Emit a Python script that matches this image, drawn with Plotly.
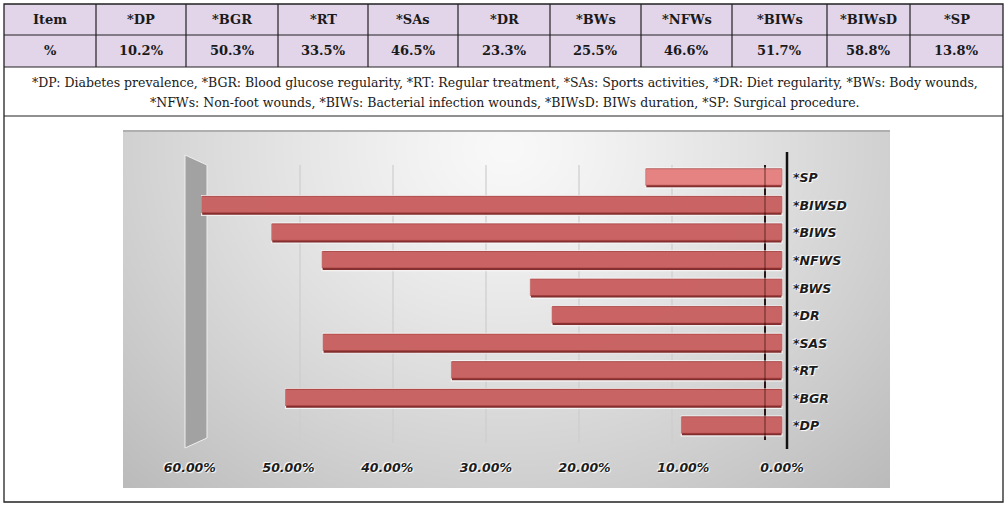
import base64
import struct
import zlib

import numpy as np
import plotly.graph_objects as go

# ---------------- data ----------------
items = ["DP", "BGR", "RT", "SAs", "DR", "BWs", "NFWs", "BIWs", "BIWsD", "SP"]
percent = [10.2, 50.3, 33.5, 46.5, 23.3, 25.5, 46.6, 51.7, 58.8, 13.8]
full_names = ["Diabetes prevalence", "Blood glucose regularity", "Regular treatment",
              "Sports activities", "Diet regularity", "Body wounds", "Non-foot wounds",
              "Bacterial infection wounds", "BIWs duration", "Surgical procedure"]
x_ticks = [0, 10, 20, 30, 40, 50, 60]

# ---------------- layout constants ----------------
W, H = 1008, 507
col_edges = [4, 96, 186, 278, 368, 458, 550, 641, 732, 827, 910, 1003]
row_edges = [4, 35, 67, 116, 502]
ZERO_PX, PX_PER = 782.0, 9.87          # bar axis: pixel of 0 %, pixels per %
CAT0_PX, CAT_STEP = 426.0, 27.56        # bar axis: pixel of first category, step
BG = (123, 130, 890, 488)               # chart picture area


def PX(x):
    return x / W


def PY(y):
    return 1 - y / H


def png_uri(arr):
    h, w, _ = arr.shape
    raw = b"".join(b"\x00" + arr[i].tobytes() for i in range(h))

    def chunk(t, d):
        return struct.pack(">I", len(d)) + t + d + struct.pack(">I", zlib.crc32(t + d) & 0xffffffff)

    png = (b"\x89PNG\r\n\x1a\n" + chunk(b"IHDR", struct.pack(">IIBBBBB", w, h, 8, 2, 0, 0, 0))
           + chunk(b"IDAT", zlib.compress(raw, 9)) + chunk(b"IEND", b""))
    return "data:image/png;base64," + base64.b64encode(png).decode()


# background gradient picture
bw, bh = BG[2] - BG[0], BG[3] - BG[1]
u = np.linspace(0, 1, bw)[None, :]
v = np.linspace(0, 1, bh)[:, None]
d = np.sqrt(((u - 0.5) / 0.6) ** 2 + ((v - 0.05) / 1.1) ** 2)
val = 249 - 50 * d ** 1.2
val[:2, :] = 175
img = np.clip(np.repeat(val[:, :, None], 3, axis=2), 0, 255).astype(np.uint8)
bg_uri = png_uri(img)

# ---------------- figure ----------------
cat_labels = ["*" + s.upper() for s in items]
face_colors = ["#f28f8e" if s == "SP" else "#d46c6c" for s in items]

fig = go.Figure()
fig.add_trace(go.Bar(
    x=percent, y=cat_labels, orientation="h", width=0.72, offset=-0.36,
    marker=dict(color="#7a2020", line=dict(color="rgba(255,255,255,0.9)", width=1.2)),
    opacity=0.92, hoverinfo="skip", showlegend=False))
fig.add_trace(go.Bar(
    x=percent, y=cat_labels, orientation="h", width=0.6, offset=-0.265,
    marker=dict(color=face_colors, line=dict(color="#a83c3c", width=0.6)),
    opacity=0.88, showlegend=False))

x_lo_px, x_hi_px = 170, 790
y_top_px, y_bot_px = 150, 452
lab_font = dict(family="DejaVu Sans", size=12.5, color="#1c1c1c", weight="bold",
                style="italic", shadow="1px 1px 1px #ffffff, -1px -1px 1px #ffffff")

fig.update_layout(
    width=W, height=H, margin=dict(l=0, r=0, t=0, b=0, pad=0, autoexpand=False),
    paper_bgcolor="white", plot_bgcolor="rgba(0,0,0,0)", barmode="overlay",
    xaxis=dict(domain=[PX(x_lo_px), PX(x_hi_px)],
               range=[(ZERO_PX - x_lo_px) / PX_PER, (ZERO_PX - x_hi_px) / PX_PER],
               tickvals=x_ticks, ticktext=[f"{t:.2f}%" for t in x_ticks],
               showgrid=False, zeroline=False, showline=False, ticks="", automargin=False,
               tickfont=lab_font, ticklabelstandoff=6, fixedrange=True),
    yaxis=dict(domain=[PY(y_bot_px), PY(y_top_px)],
               range=[(CAT0_PX - y_bot_px) / CAT_STEP, (CAT0_PX - y_top_px) / CAT_STEP],
               type="category", categoryorder="array", categoryarray=cat_labels,
               side="right", showgrid=False, zeroline=False, showline=False, ticks="",
               automargin=False,
               tickfont=lab_font, ticklabelstandoff=2, fixedrange=True),
)

fig.add_layout_image(dict(source=bg_uri, xref="paper", yref="paper",
                          x=PX(BG[0]), y=PY(BG[1]), sizex=bw / W, sizey=bh / H,
                          xanchor="left", yanchor="top", sizing="stretch", layer="below"))

shapes = []
# table row fills
shapes.append(dict(type="rect", xref="paper", yref="paper", x0=PX(4), x1=PX(1003),
                   y0=PY(4), y1=PY(67), fillcolor="#e2d4e9", line=dict(width=0), layer="below"))

# back wall and back-plane grid (decoration of the 3-D chart)
shapes.append(dict(type="path", xref="paper", yref="paper", layer="below",
                   path=f"M{PX(185)},{PY(155)} L{PX(207)},{PY(165)} L{PX(207)},{PY(438)} L{PX(185)},{PY(448)} Z",
                   fillcolor="#a2a2a2", line=dict(color="#eeeeee", width=1)))
back_zero, back_per = 765.0, 9.3
for t in x_ticks[1:-1]:
    gx = back_zero - t * back_per
    shapes.append(dict(type="line", xref="paper", yref="paper", layer="below",
                       x0=PX(gx), x1=PX(gx), y0=PY(165), y1=PY(443),
                       line=dict(color="#cdcdcd", width=1.2)))
shapes.append(dict(type="line", xref="paper", yref="paper", layer="below",
                   x0=PX(back_zero), x1=PX(back_zero), y0=PY(165), y1=PY(440),
                   line=dict(color="#1e1e1e", width=2)))
# back line faintly seen through the translucent bars
shapes.append(dict(type="line", xref="paper", yref="paper", layer="above", opacity=0.35,
                   x0=PX(back_zero), x1=PX(back_zero), y0=PY(165), y1=PY(440),
                   line=dict(color="#3a0a0a", width=2)))
# front axis line
shapes.append(dict(type="line", xref="paper", yref="paper", layer="above",
                   x0=PX(787), x1=PX(787), y0=PY(152), y1=PY(449),
                   line=dict(color="#111111", width=2.5)))

# table grid
tcol = "#222222"
shapes.append(dict(type="rect", xref="paper", yref="paper", x0=PX(4), x1=PX(1003),
                   y0=PY(4), y1=PY(502), line=dict(color=tcol, width=1.3), layer="above"))
for ry in row_edges[1:-1]:
    shapes.append(dict(type="line", xref="paper", yref="paper", x0=PX(4), x1=PX(1003),
                       y0=PY(ry), y1=PY(ry), line=dict(color=tcol, width=1.2), layer="above"))
for cx in col_edges[1:-1]:
    shapes.append(dict(type="line", xref="paper", yref="paper", x0=PX(cx), x1=PX(cx),
                       y0=PY(4), y1=PY(67), line=dict(color=tcol, width=1.2), layer="above"))
fig.update_layout(shapes=shapes)

# table texts
hdr_font = dict(family="DejaVu Serif", size=13, color="#1a1a1a", weight="bold")
row1 = ["Item"] + ["*" + s for s in items]
row2 = ["%"] + [f"{p:.1f}%" for p in percent]
ann = []
for i in range(len(row1)):
    cx = (col_edges[i] + col_edges[i + 1]) / 2
    ann.append(dict(x=PX(cx), y=PY(20), text=row1[i], showarrow=False,
                    xanchor="center", yanchor="middle",
                    xref="paper", yref="paper", font=hdr_font))
    ann.append(dict(x=PX(cx), y=PY(51), text=row2[i], showarrow=False,
                    xanchor="center", yanchor="middle",
                    xref="paper", yref="paper", font=hdr_font))

defs = [f"*{a}: {b}" for a, b in zip(items, full_names)]
line1 = ", ".join(defs[:6]) + ","
line2 = ", ".join(defs[6:]) + "."
foot_font = dict(family="DejaVu Serif", size=12.5, color="#1a1a1a")
for txt, yy in ((line1, 83), (line2, 102)):
    ann.append(dict(x=PX(505), y=PY(yy), text=txt, showarrow=False,
                    xanchor="center", yanchor="middle",
                    xref="paper", yref="paper", font=foot_font))
fig.update_layout(annotations=ann)

fig.write_html("out.html")
